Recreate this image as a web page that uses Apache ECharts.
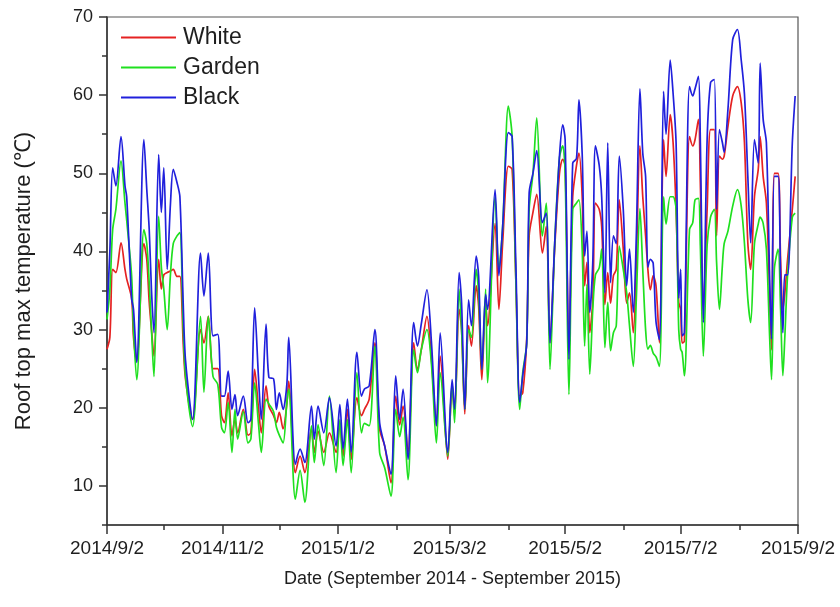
<!DOCTYPE html>
<html>
<head>
<meta charset="utf-8">
<title>Roof top max temperature</title>
<script src="https://cdn.jsdelivr.net/npm/echarts@6/dist/echarts.min.js"></script>
<style>
  html, body { margin: 0; padding: 0; background: #fff; }
  #chart { width: 840px; height: 607px; }
</style>
</head>
<body>
<div id="chart"></div>
<script>
// Daily roof-top maximum temperature (°C), September 2014 - September 2015.
// Sample positions are day offsets from 2014/9/2.
const dayOffsets = [
  0, 1.5, 3, 4.7, 7.4, 9.5, 10.4, 13, 14, 15.7,
  19.5, 21, 22.3, 23.5, 24.8, 27.3, 28.7, 30, 31.8, 33.5,
  35, 37, 38.5, 40.3, 41.5, 45.2, 49.4, 51.2, 53.5, 56,
  58.5, 60.5, 62, 64, 66, 67.6, 69, 72, 74.5, 76,
  78, 80, 81.5, 84, 85.5, 88, 89.5, 91, 93, 95,
  96, 99.5, 102, 104.5, 108, 109.5, 111.5, 114.5, 117.5, 121,
  123, 124.7, 127, 129, 132, 134.4, 136, 138.5, 141.5, 144,
  146.7, 150, 152.5, 154.6, 156.4, 159, 162, 164, 166, 169,
  171.4, 174, 176, 180, 182.3, 183.6, 186, 187.3, 189, 191,
  192.5, 195, 196.3, 198, 200, 201, 205, 207, 209, 212,
  214, 216, 218, 219.6, 221.7, 223, 225, 227, 230, 232,
  234, 236.5, 239, 240.7, 242, 244, 246, 248, 249.3, 251,
  252.3, 253.5, 255, 256.6, 258, 260, 261.3, 263, 264.5, 266,
  267.5, 269, 270.6, 272.7, 274.5, 276, 278, 279.6, 281.5, 283,
  284.5, 285.7, 287, 288.5, 290, 291.8, 294, 295.3, 297.5, 299,
  300.6, 302, 303, 303.8, 305, 307.7, 309.4, 310.6, 312.4, 313.4,
  315, 317, 318.8, 320.8, 322, 323.5, 325, 326, 328, 330.5,
  333, 335, 336.7, 338.5, 340, 342, 344, 345, 346.6, 348.3,
  350, 351, 352.5, 354.5, 355.8, 357, 358, 359.5, 362, 363.5
];

const white = [
  27.5, 29, 37.7, 37.3, 41.1, 37.7, 36.5, 34, 29, 26,
  41, 39, 33.5, 30, 26.6, 39, 35.2, 37, 37.3, 37.5,
  37.7, 36.8, 36.8, 28, 23.6, 18.5, 30, 28.3, 31.7, 25,
  25, 19, 18.1, 21.9, 16.4, 18.5, 16.8, 19.8, 16.5, 16.8,
  24.9, 20, 16.8, 22.8, 20.2, 19, 18.1, 19.4, 17.3, 20.5,
  23.4, 11.7, 13.8, 11.7, 17.3, 14.3, 17, 14.3, 16.8, 14.3,
  18, 13.8, 19.8, 13.4, 21.3, 19, 19.8, 21.1, 28.3, 17.3,
  15.1, 10.4, 21.5, 17.8, 20.2, 14.3, 28.3, 24.9, 27.4, 31.7,
  26.2, 17.7, 26.6, 13.4, 22.8, 19.2, 32.6, 30, 19.2, 30.5,
  27.9, 35.6, 33, 23.6, 33.4, 30.5, 43.6, 32.6, 41.1, 50.9,
  50.5, 36, 21.5, 21.9, 28.8, 42, 45, 47.3, 39.8, 43.2,
  28.3, 40.5, 50, 51.8, 51, 28.3, 47, 51, 52.6, 47,
  35.6, 38.6, 29.6, 33.8, 46.2, 45.4, 43.2, 33.2, 37.3, 33.4,
  36.9, 37.7, 46.6, 40.3, 33.4, 34.7, 29.6, 38.6, 53.5, 47,
  42, 37.7, 35.1, 36.9, 35.6, 28.3, 54.3, 49.6, 57.5, 54,
  45.4, 33.5, 32.6, 28.3, 28.5, 54.7, 53.5, 54.3, 56.9, 48.8,
  32.6, 45.4, 55.6, 55.6, 42, 52.2, 51.8, 52.2, 56, 59.9,
  61.1, 59, 54, 41.1, 37.7, 47, 50.5, 54.7, 49.6, 46.2,
  34.7, 27.4, 50, 50, 39, 32.6, 34.5, 39, 45.4, 49.6
];

const garden = [
  31.3, 35, 42.8, 45.4, 51.6, 46.2, 44, 36.9, 30, 23.6,
  42.8, 41, 36, 30, 24, 44.5, 38, 35.2, 30, 37,
  41, 42, 42.4, 30, 24, 17.6, 31.7, 22, 31.7, 24,
  23, 17.5, 16.8, 20.7, 14.3, 19.8, 16, 19.5, 15.5, 16,
  23.2, 18, 14.3, 21.1, 20.5, 19.5, 17.5, 16.5, 15.5, 20.7,
  22.4, 8.3, 12, 7.9, 17.7, 13, 17.8, 12.6, 21.5, 11.7,
  18.5, 12.6, 18.5, 11.7, 24.5, 16.8, 18, 17.7, 27.9, 14.3,
  12.3, 8.7, 19.8, 16.3, 18.8, 10.8, 27.4, 24.5, 27.4, 30,
  25.5, 15.5, 24.5, 13.8, 23.2, 18.1, 35.2, 30, 19.8, 30,
  29, 37.7, 34.7, 24.9, 35.2, 23.2, 47, 37.7, 43.2, 58.6,
  54.7, 36, 19.8, 24.5, 28.3, 45.4, 50, 57.1, 42, 46.2,
  24.9, 41.1, 52, 53.5, 50, 21.7, 45.4, 46.2, 46.6, 40.3,
  27.9, 35.8, 24.3, 32.6, 37, 37.9, 40.3, 27.7, 33.5, 27.3,
  29.6, 30.5, 40.7, 37.7, 34.7, 30.5, 25.3, 34, 45.5, 37.7,
  30, 27.5, 28, 27, 26.5, 25.3, 47, 43.5, 47, 47,
  45.4, 30, 27.5, 27.1, 24.1, 42.8, 43.7, 46.6, 46.8, 40.8,
  26.6, 40.8, 44.4, 45.4, 38.6, 32.6, 38, 41, 42.6, 45.8,
  47.9, 45.8, 41.1, 33.9, 30.9, 41, 43.5, 44.4, 43.6, 40.3,
  29.2, 23.6, 37.7, 40.3, 32.6, 24.1, 28.8, 37, 44.4, 44.9
];

const black = [
  32.2, 40, 50.7, 48.4, 54.7, 48.4, 47, 34, 32.6, 25.8,
  54.3, 48, 42.8, 35, 29.6, 52.4, 45, 50.7, 37.7, 46,
  50.5, 48.8, 47, 33, 26, 18.5, 39.8, 34.3, 39.8, 29.2,
  29.4, 21.5, 21.5, 24.7, 19.8, 21.7, 19, 21.5, 18.1, 18.5,
  32.8, 24, 18.5, 30.7, 23.9, 23.7, 19.8, 21.9, 19.8, 23,
  29, 12.8, 14.7, 13, 20.2, 16, 20.2, 16.8, 21.3, 15.1,
  20.4, 14.7, 21.1, 14.3, 27.1, 21.5, 22.4, 22.8, 30, 18.1,
  15.1, 11.5, 24.1, 18.5, 22.4, 13.4, 30.9, 27.9, 30.7, 35.1,
  28.3, 17.7, 29.6, 14.3, 23.6, 19.8, 37.3, 33.4, 19.8, 33.8,
  30.5, 39.4, 36.9, 24.9, 34.5, 32.6, 47.9, 36.9, 43.2, 55.2,
  54.7, 38, 20.7, 24.1, 28.3, 47.5, 50, 52.9, 43.7, 44.9,
  28.3, 41.1, 52.2, 56.2, 54.3, 26.2, 51.3, 51.9, 59.4, 52.5,
  39.4, 42.6, 32.2, 38.6, 53.5, 51, 47, 34.7, 53.9, 36,
  42, 41, 52.2, 45.4, 35.6, 40.3, 32.2, 42, 60.8, 52.6,
  49.6, 38, 39, 38.5, 31, 28.7, 60.5, 55, 64.5, 60.3,
  53.9, 34, 37.7, 29.2, 29.6, 61.1, 59.9, 60.8, 62.4, 54.3,
  30.9, 54.3, 61.6, 62, 45.4, 55.6, 54, 52.7, 58.2, 67.1,
  68.4, 64.5, 60.2, 49.6, 41.1, 54.3, 51.3, 64.1, 56.9, 53.9,
  36.9, 28.8, 49.6, 49.6, 36.9, 29.6, 37, 37, 53.9, 59.9
];

const seriesNames = ['White', 'Garden', 'Black'];
const tickDates = ['2014/9/2', '2014/11/2', '2015/1/2', '2015/3/2', '2015/5/2', '2015/7/2', '2015/9/2'];
const minorTickDates = ['2014/10/2', '2014/12/2', '2015/2/2', '2015/4/2', '2015/6/2', '2015/8/2'];
const yLabelValues = [10, 20, 30, 40, 50, 60, 70];
const yMinorValues = [5, 15, 25, 35, 45, 55, 65];

function dayOf(str) {
  const [y, m, d] = str.split('/').map(Number);
  return Math.round((Date.UTC(y, m - 1, d) - Date.UTC(2014, 8, 2)) / 86400000);
}
const tickDays = tickDates.map(dayOf);
const minorDays = minorTickDates.map(dayOf);
const labelByDay = {};
tickDays.forEach((d, i) => { labelByDay[d] = tickDates[i]; });

const pairs = vals => dayOffsets.map((d, i) => [d, vals[i]]);

const axisColor = '#333';
const textColor = '#1e1e1e';
const fontFamily = '"Liberation Sans", Arial, sans-serif';

const chart = echarts.init(document.getElementById('chart'), null, { renderer: 'canvas' });

chart.setOption({
  animation: false,
  backgroundColor: '#fff',
  grid: {
    left: 107, right: 42, top: 17, bottom: 82,
    show: true, borderColor: '#555', borderWidth: 1.2, backgroundColor: 'transparent'
  },
  legend: {
    orient: 'vertical',
    left: 116, top: 21,
    icon: 'rect',
    itemWidth: 55, itemHeight: 2,
    itemGap: 7,
    data: seriesNames,
    textStyle: { fontSize: 23, color: textColor, fontFamily: fontFamily, padding: [0, 0, 0, 2] }
  },
  xAxis: [
    {
      type: 'value', min: 0, max: 365,
      name: 'Date (September 2014 - September 2015)',
      nameLocation: 'middle', nameGap: 45,
      nameTextStyle: { fontSize: 18, color: textColor, fontFamily: fontFamily },
      axisLine: { show: true, lineStyle: { color: axisColor, width: 1.5 } },
      axisTick: { show: true, length: 9, customValues: tickDays, lineStyle: { color: axisColor, width: 1.5 } },
      axisLabel: {
        customValues: tickDays, margin: 14,
        fontSize: 19, color: textColor, fontFamily: fontFamily,
        formatter: v => labelByDay[v] || ''
      },
      splitLine: { show: false }
    },
    {
      type: 'value', min: 0, max: 365, position: 'bottom',
      axisLine: { show: false },
      axisTick: { show: true, length: 5, customValues: minorDays, lineStyle: { color: axisColor, width: 1.5 } },
      axisLabel: { show: false },
      splitLine: { show: false }
    }
  ],
  yAxis: [
    {
      type: 'value', min: 5, max: 70,
      axisLine: { show: true, lineStyle: { color: axisColor, width: 1.5 } },
      axisTick: { show: true, length: 8, customValues: yLabelValues, lineStyle: { color: axisColor, width: 1.5 } },
      axisLabel: {
        customValues: yLabelValues, margin: 14,
        fontSize: 18, color: textColor, fontFamily: fontFamily
      },
      splitLine: { show: false }
    },
    {
      type: 'value', min: 5, max: 70, position: 'left',
      axisLine: { show: false },
      axisTick: { show: true, length: 5, customValues: yMinorValues, lineStyle: { color: axisColor, width: 1.5 } },
      axisLabel: { show: false },
      splitLine: { show: false }
    }
  ],
  graphic: [{
    type: 'text',
    x: 24, y: 281,
    rotation: Math.PI / 2,
    style: {
      text: 'Roof top max temperature (℃)',
      fontSize: 22, fill: textColor, fontFamily: fontFamily,
      align: 'center', verticalAlign: 'middle'
    }
  }],
  series: [
    { name: 'White', type: 'line', data: pairs(white), color: '#e52222' },
    { name: 'Garden', type: 'line', data: pairs(garden), color: '#1fe01f' },
    { name: 'Black', type: 'line', data: pairs(black), color: '#2020dc' }
  ].map(s => Object.assign(s, {
    xAxisIndex: 0, yAxisIndex: 0,
    showSymbol: false, smooth: 0.3,
    lineStyle: { width: 1.7, color: s.color },
    itemStyle: { color: s.color }
  }))
});
</script>
</body>
</html>
